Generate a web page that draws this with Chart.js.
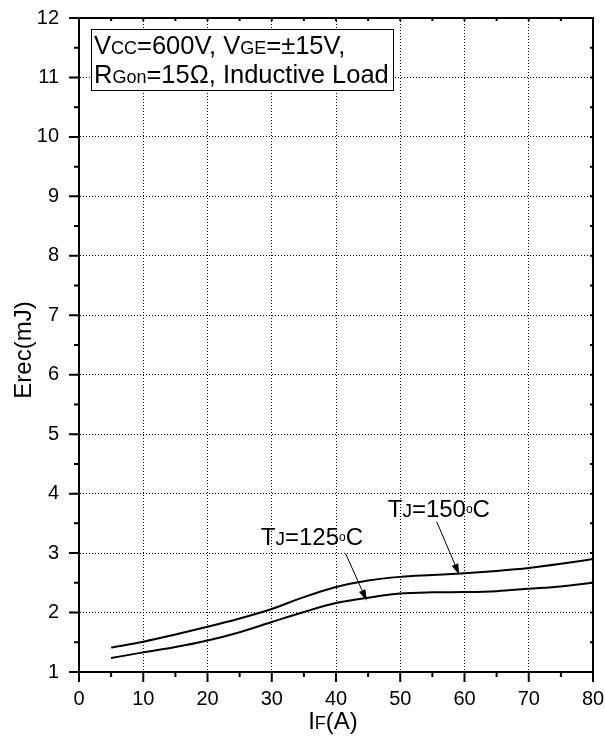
<!DOCTYPE html>
<html>
<head>
<meta charset="utf-8">
<script src="https://cdn.jsdelivr.net/npm/chart.js@4"></script>
<style>
  html, body { margin: 0; padding: 0; background: #fff; }
  canvas { display: block; }
</style>
</head>
<body>
<canvas id="erecChart" width="605" height="736"></canvas>
<script>
// forward current IF (A)
const iF = [5, 10, 15, 20, 25, 30, 35, 40, 45, 50, 55, 60, 65, 70, 75, 80];
// Erec (mJ)
const erec150 = [1.41, 1.51, 1.63, 1.76, 1.90, 2.06, 2.26, 2.43, 2.54, 2.60, 2.63, 2.66, 2.70, 2.75, 2.82, 2.90];
const erec125 = [1.235, 1.33, 1.42, 1.53, 1.67, 1.84, 2.01, 2.16, 2.25, 2.32, 2.34, 2.345, 2.36, 2.40, 2.44, 2.50];

const xMin = 0, xMax = 80, xStep = 10;
const yMin = 1, yMax = 12, yStep = 1;

// curve labels + arrows, in data units
const curveNotes = [
    { temp: '125', tx: 28.3, ty: 3.14, from: [41.5, 2.99], to: [44.78, 2.20] },
    { temp: '150', tx: 48.05, ty: 3.605, from: [55.67, 3.53], to: [59.19, 2.635] }
];

const FONT = '"Liberation Sans", Arial, sans-serif';

// draw a run of text pieces with different sizes on one baseline
function drawRuns(ctx, x, y, runs) {
    let cx = x;
    runs.forEach(function(r) {
        ctx.font = r[1] + 'px ' + FONT;
        ctx.fillText(r[0], cx, y - (r[2] || 0));
        cx += ctx.measureText(r[0]).width;
    });
    return cx;
}

const framePlugin = {
    id: 'frame',
    afterDraw(chart) {
        const ctx = chart.ctx;
        const a = chart.chartArea;
        const xs = chart.scales.x, ys = chart.scales.y;
        ctx.save();
        ctx.strokeStyle = '#000';
        ctx.fillStyle = '#000';

        // top and right frame
        ctx.lineWidth = 2;
        ctx.beginPath();
        ctx.moveTo(a.left - 1, a.top);
        ctx.lineTo(a.right, a.top);
        ctx.lineTo(a.right, a.bottom + 1);
        ctx.stroke();

        // ticks: outward on bottom/left, small inward on top/right
        ctx.lineWidth = 2;
        ctx.beginPath();
        for (let v = xMin; v <= xMax; v += xStep / 2) {
            const px = xs.getPixelForValue(v);
            const major = v % xStep === 0;
            ctx.moveTo(px, a.bottom);
            ctx.lineTo(px, a.bottom + (major ? 10 : 5));
            ctx.moveTo(px, a.top);
            ctx.lineTo(px, a.top + 3);
        }
        for (let v = yMin; v <= yMax; v += yStep / 2) {
            const py = ys.getPixelForValue(v);
            const major = v % yStep === 0;
            ctx.moveTo(a.left, py);
            ctx.lineTo(a.left - (major ? 10 : 5), py);
            ctx.moveTo(a.right, py);
            ctx.lineTo(a.right - 3, py);
        }
        ctx.stroke();

        // condition box
        const bx = a.left + 12, by = a.top + 11, bw = 302, bh = 61;
        ctx.fillStyle = '#fff';
        ctx.fillRect(bx, by, bw, bh);
        ctx.lineWidth = 1;
        ctx.strokeRect(bx + 0.5, by + 0.5, bw, bh);
        ctx.fillStyle = '#000';
        ctx.textBaseline = 'alphabetic';
        ctx.textAlign = 'left';
        drawRuns(ctx, bx + 3, by + 25, [['V', 25.5], ['CC', 18], ['=600V, ', 25.5], ['V', 25.5], ['GE', 18], ['=\u00b115V,', 25.5]]);
        drawRuns(ctx, bx + 3, by + 54, [['R', 25.5], ['Gon', 18], ['=15\u03a9, Inductive Load', 25.5]]);

        // curve labels and arrows
        curveNotes.forEach(function(n) {
            drawRuns(ctx, xs.getPixelForValue(n.tx), ys.getPixelForValue(n.ty),
                [['T', 24], ['J', 19], ['=' + n.temp, 24], ['o', 12, 4], ['C', 24]]);
            const x1 = xs.getPixelForValue(n.from[0]), y1 = ys.getPixelForValue(n.from[1]);
            const x2 = xs.getPixelForValue(n.to[0]), y2 = ys.getPixelForValue(n.to[1]);
            const ang = Math.atan2(y2 - y1, x2 - x1);
            const hl = 11, hw = 3.5;
            ctx.lineWidth = 1;
            ctx.beginPath();
            ctx.moveTo(x1, y1);
            ctx.lineTo(x2 - Math.cos(ang) * hl, y2 - Math.sin(ang) * hl);
            ctx.stroke();
            ctx.beginPath();
            ctx.moveTo(x2, y2);
            ctx.lineTo(x2 - Math.cos(ang) * hl - Math.sin(ang) * hw, y2 - Math.sin(ang) * hl + Math.cos(ang) * hw);
            ctx.lineTo(x2 - Math.cos(ang) * hl + Math.sin(ang) * hw, y2 - Math.sin(ang) * hl - Math.cos(ang) * hw);
            ctx.closePath();
            ctx.fill();
        });

        // axis titles
        const xt = 'I', xs2 = 'F', xt2 = '(A)';
        ctx.font = '24px ' + FONT;
        let w = ctx.measureText(xt).width + ctx.measureText(xt2).width;
        ctx.font = '18px ' + FONT;
        w += ctx.measureText(xs2).width;
        drawRuns(ctx, (a.left + a.right) / 2 - w / 2 - 3, 729, [[xt, 24], [xs2, 18], [xt2, 24]]);

        ctx.save();
        ctx.translate(31, (a.top + a.bottom) / 2 + 5);
        ctx.rotate(-Math.PI / 2);
        ctx.font = '24px ' + FONT;
        ctx.textAlign = 'center';
        ctx.fillText('Erec(mJ)', 0, 0);
        ctx.restore();

        ctx.restore();
    }
};

const lineStyle = {
    borderColor: '#000',
    borderWidth: 2,
    pointRadius: 0,
    fill: false,
    cubicInterpolationMode: 'monotone'
};

const ctx = document.getElementById('erecChart').getContext('2d');
const erecChart = new Chart(ctx, {
    type: 'line',
    data: {
        datasets: [
            Object.assign({ label: 'TJ=150°C', data: iF.map((x, i) => ({ x: x, y: erec150[i] })) }, lineStyle),
            Object.assign({ label: 'TJ=125°C', data: iF.map((x, i) => ({ x: x, y: erec125[i] })) }, lineStyle)
        ]
    },
    options: {
        responsive: false,
        animation: false,
        devicePixelRatio: 1,
        layout: { padding: { top: 18, right: 12, left: 0, bottom: 0 } },
        plugins: { legend: { display: false }, tooltip: { enabled: false } },
        scales: {
            x: {
                type: 'linear',
                min: xMin,
                max: xMax,
                afterFit: function(scale) {
                    scale.height = 64;
                    scale.paddingLeft = 0; scale.paddingRight = 0;
                    scale.paddingTop = 0; scale.paddingBottom = 0;
                },
                ticks: { stepSize: xStep, color: '#000', padding: 15, maxRotation: 0, autoSkip: false,
                         font: { family: FONT, size: 20 } },
                grid: { color: '#000', lineWidth: 1, drawTicks: false },
                border: { display: true, color: '#000', width: 2, dash: [1, 2] }
            },
            y: {
                min: yMin,
                max: yMax,
                afterFit: function(scale) {
                    scale.width = 79;
                    scale.paddingLeft = 0; scale.paddingRight = 0;
                    scale.paddingTop = 0; scale.paddingBottom = 0;
                },
                ticks: { stepSize: yStep, color: '#000', padding: 20,
                         font: { family: FONT, size: 20 } },
                grid: { color: '#000', lineWidth: 1, drawTicks: false },
                border: { display: true, color: '#000', width: 2, dash: [1, 2] }
            }
        }
    },
    plugins: [framePlugin]
});
</script>
</body>
</html>
